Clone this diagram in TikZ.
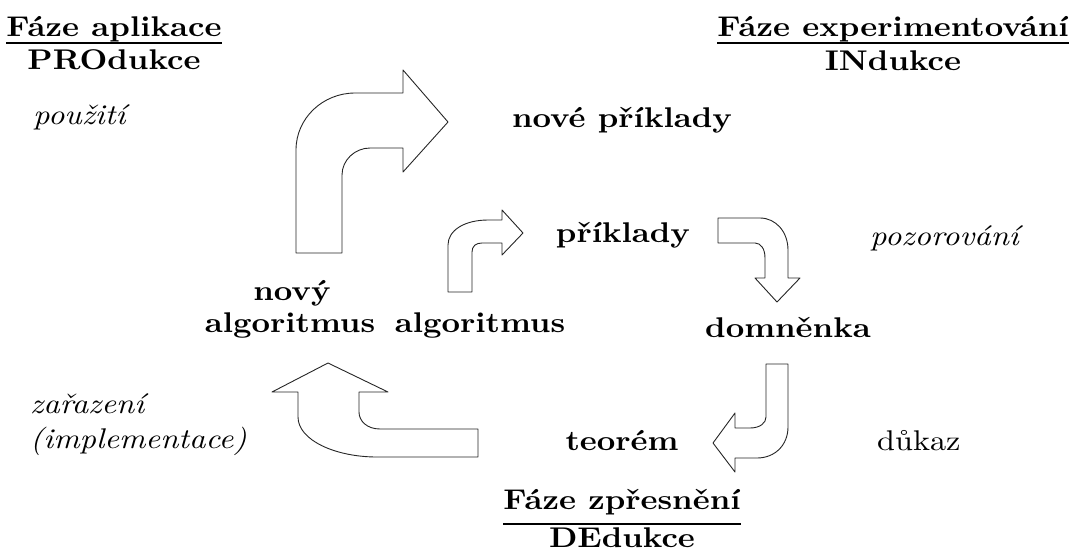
\documentclass[tikz,border=0pt]{standalone}
\usepackage{fontspec}
\setmainfont{lmroman10}[Extension=.otf, UprightFont=*-regular, BoldFont=*-bold,
  ItalicFont=*-italic, BoldItalicFont=*-bolditalic, FakeStretch=1.13]
\begin{document}
\begin{tikzpicture}[x=1pt,y=-1pt,
  lbl/.style={inner sep=0pt,anchor=base,font=\fontsize{28.5}{34}\selectfont\bfseries},
  note/.style={inner sep=0pt,anchor=base west,font=\fontsize{28.5}{34}\selectfont\itshape},
  plain/.style={inner sep=0pt,anchor=base west,font=\fontsize{28.5}{34}\selectfont},
  rule/.style={line width=1.3pt},
  blockarrow/.style={draw=black!85,line width=0.9pt,fill=white,line join=round}]
\useasboundingbox (0,0) rectangle (1077,555);

% phase headings
\node[lbl] (fa) at (114,36) {Fáze aplikace};
\node[lbl] (fb) at (114,69) {PROdukce};
\draw[rule] ([yshift=-7pt]fa.base west) -- ([yshift=-7pt]fa.base east);
\node[lbl] (ea) at (893,36) {Fáze experimentování};
\node[lbl] (eb) at (893,70) {INdukce};
\draw[rule] ([yshift=-7pt]ea.base west) -- ([yshift=-7pt]ea.base east);
\node[lbl] (za) at (622,509) {Fáze zpřesnění};
\node[lbl] (zb) at (622,547) {DEdukce};
\draw[rule] ([yshift=-15pt]za.base west) -- ([yshift=-15pt]za.base east);

% activities
\node[note] (pouz) at (33,124) {použití};
\node[note] (poz) at (870,245) {pozorování};
\node[note] (zar) at (30,413) {zařazení};
\node[note] (impl) at (30,448) {(implementace)};
\node[plain] (dukaz) at (877,450) {důkaz};

% objects of the cycle
\node[lbl] (nove) at (622,127) {nové příklady};
\node[lbl] (prik) at (623,242) {příklady};
\node[lbl] (novy) at (292,300) {nový};
\node[lbl] (nalg) at (290,332) {algoritmus};
\node[lbl] (alg) at (480,332) {algoritmus};
\node[lbl] (domn) at (788,337) {domněnka};
\node[lbl] (teor) at (622,450) {teorém};

% large bent arrow: new algorithm -> new examples
\draw[blockarrow] (296,253) -- (296,150) .. controls (296,118) and (323,93) .. (355,93)
  -- (403,93) -- (403,70) -- (448,122) -- (403,172) -- (403,148) -- (370,148)
  .. controls (355,148) and (342,160) .. (342,175) -- (342,253) -- cycle;
% small bent arrow: algorithm -> examples
\draw[blockarrow] (448,292) -- (448,245) .. controls (448,230) and (465,220) .. (488,220)
  -- (502,220) -- (502,210) -- (523,233) -- (502,255) -- (502,243) -- (482,243)
  .. controls (476,243) and (472,246) .. (472,252) -- (472,292) -- cycle;
% examples -> conjecture
\draw[blockarrow] (718,218) -- (760,218) .. controls (776,218) and (788,232) .. (788,250)
  -- (788,278) -- (800,278) -- (777,302) -- (755,278) -- (765,278) -- (765,258)
  .. controls (765,249) and (761,243) .. (755,243) -- (718,243) -- cycle;
% conjecture -> theorem
\draw[blockarrow] (766,364) -- (788,364) -- (788,427) .. controls (788,445) and (775,458) .. (757,458)
  -- (735,458) -- (735,472) -- (713,443) -- (735,413) -- (735,428) -- (750,428)
  .. controls (760,428) and (766,423) .. (766,417) -- cycle;
% theorem -> new algorithm
\draw[blockarrow] (478,429) -- (380,429) .. controls (367,429) and (359,421) .. (359,412)
  -- (359,392) -- (388,392) -- (328,363) -- (272,392) -- (298,392) -- (298,417)
  .. controls (298,440) and (335,457) .. (377,457) -- (478,457) -- cycle;
\end{tikzpicture}
\end{document}
